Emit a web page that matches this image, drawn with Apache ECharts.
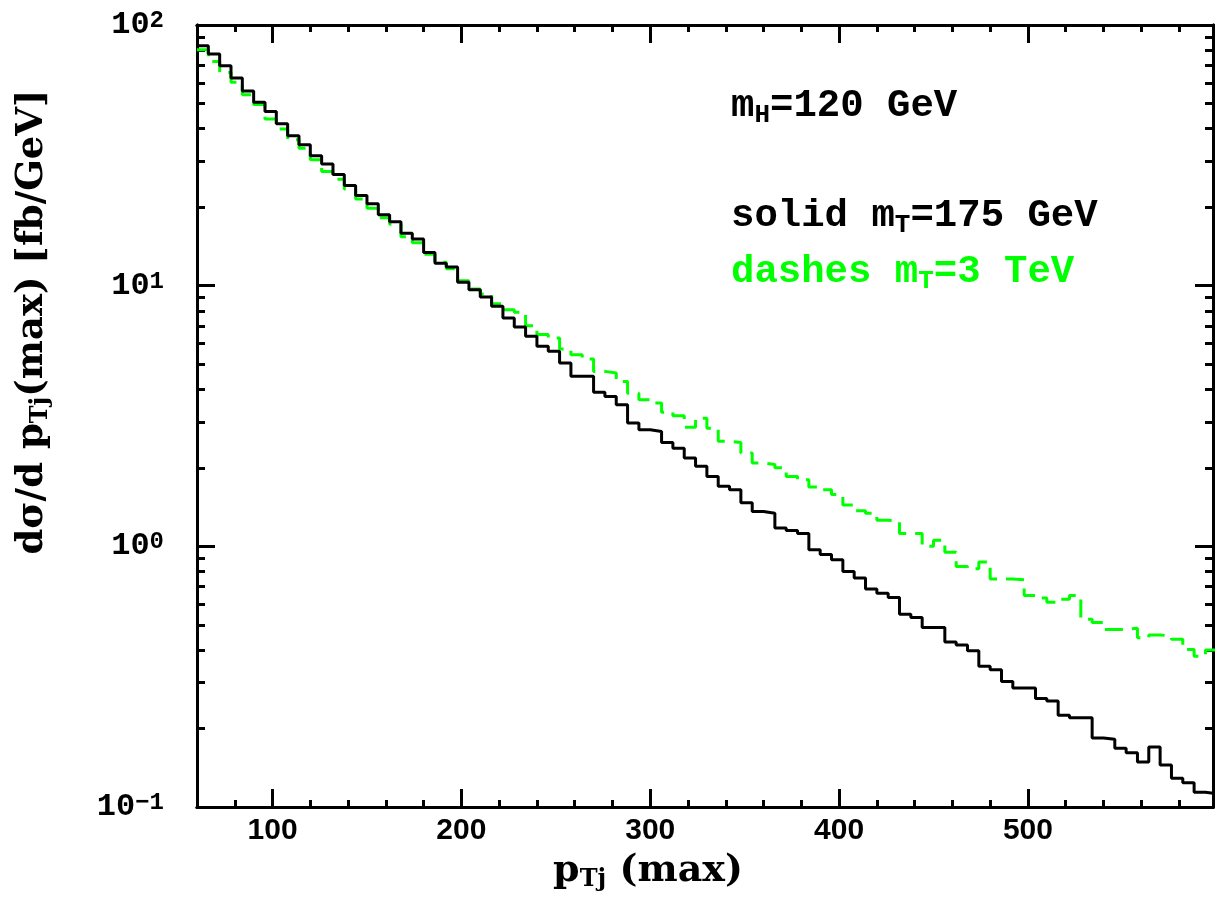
<!DOCTYPE html>
<html><head><meta charset="utf-8">
<script src="https://cdn.jsdelivr.net/npm/echarts@6/dist/echarts.min.js"></script>
<style>html,body{margin:0;padding:0;background:#fff}#c{width:1218px;height:913px}</style>
</head><body><div id="c"></div>
<script>
// histogram bins: 6 GeV wide starting at 60 GeV
const binStart = 60, binWidth = 6;
// solid: m_T = 175 GeV
const solidVals = [83.3,77.4,69.8,62.6,55.8,50.5,46.6,41.8,37.6,34.7,
 31.5,29.3,26.7,24.2,22.2,20.6,18.7,17.6,15.9,15.1,
 13.4,12.2,11.8,10.3,9.65,9.05,8.33,7.52,6.94,6.39,
 5.85,5.60,5.05,4.49,4.49,3.90,3.76,3.49,2.97,2.80,
 2.76,2.50,2.38,2.18,2.03,1.855,1.70,1.65,1.47,1.36,
 1.34,1.175,1.15,1.12,0.97,0.93,0.889,0.80,0.756,0.686,
 0.66,0.637,0.549,0.533,0.488,0.488,0.430,0.418,0.398,0.347,
 0.336,0.303,0.286,0.286,0.261,0.255,0.225,0.220,0.220,0.184,
 0.182,0.168,0.1615,0.1487,0.170,0.145,0.129,0.124,0.114,0.1125];
// dashes: m_T = 3 TeV
const dashVals = [80.4,72.5,65.8,60.3,54.0,49.5,43.6,39.9,36.3,33.7,
 30.4,27.4,25.6,23.5,21.5,19.8,18.2,17.2,15.4,14.6,
 13.2,12.3,11.6,10.45,9.71,9.29,8.53,8.09,7.90,7.02,
 6.49,6.30,5.71,5.43,5.23,4.69,4.62,4.29,3.87,3.65,
 3.55,3.27,3.17,2.86,3.10,2.84,2.53,2.50,2.28,2.09,
 2.06,2.00,1.855,1.80,1.69,1.65,1.58,1.44,1.37,1.34,
 1.26,1.25,1.12,1.12,1.00,1.056,0.95,0.837,0.82,0.87,
 0.75,0.75,0.745,0.647,0.634,0.61,0.627,0.647,0.525,0.51,
 0.48,0.48,0.485,0.446,0.457,0.453,0.44,0.402,0.379,0.40];
// ticks
const xMajorTicks = [100,200,300,400,500];
const xMinorTicks = [80,120,140,160,180,220,240,260,280,320,340,360,380,420,440,460,480,520,540,560,580];
const yMajorTicks = [0.1,1,10,100];
const yMinorTicks = [0.2,0.3,0.4,0.5,0.6,0.7,0.8,0.9,2,3,4,5,6,7,8,9,20,30,40,50,60,70,80,90];
const xRange = [60, 598], yRange = [0.1, 100];

function histData(vals){
  const d = vals.map((v,i)=>[binStart + i*binWidth, v]);
  d.push([binStart + vals.length*binWidth, vals[vals.length-1]]);
  return d;
}

const MONO = "'Liberation Mono','Courier New',monospace";
const SERIF = "'DejaVu Serif','Liberation Serif',serif";
const NARROW = "'Liberation Sans','Arial',sans-serif";
const lineW = 3;

function xAx(pos, ticks, len, labels){
  return {type:'value', min:xRange[0], max:xRange[1], position:pos, gridIndex:0,
    axisLine:{show:true, onZero:false, lineStyle:{color:'#000', width:lineW}},
    axisTick:{show:true, inside:true, length:len, customValues:ticks, lineStyle:{color:'#000', width:lineW}},
    axisLabel: labels ? {show:true, customValues:xMajorTicks, margin:9, color:'#000',
        fontFamily:NARROW, fontWeight:'bold', fontSize:30} : {show:false},
    splitLine:{show:false}};
}
function yAx(pos, ticks, len, labels){
  return {type:'log', logBase:10, min:yRange[0], max:yRange[1], position:pos, gridIndex:0,
    axisLine:{show:true, onZero:false, lineStyle:{color:'#000', width:lineW}},
    axisTick:{show:true, inside:true, length:len, customValues:ticks, lineStyle:{color:'#000', width:lineW}},
    axisLabel: labels ? {show:true, customValues:yMajorTicks, margin:33, color:'#000',
        formatter:function(v){ const e = Math.round(Math.log10(v)); return '{b|10}{s|' + (e<0 ? '\u2212'+(-e) : e) + '}'; },
        rich:{ b:{fontFamily:MONO, fontWeight:'bold', fontSize:32, lineHeight:32, verticalAlign:'bottom', color:'#000'},
               s:{fontFamily:MONO, fontWeight:'bold', fontSize:24, lineHeight:24, padding:[0,0,16,0], verticalAlign:'top', color:'#000'} }
      } : {show:false},
    splitLine:{show:false}};
}

const subRich = (color, fam, size, sub, drop) => ({
  a:{fontFamily:fam, fontWeight:'bold', fontSize:size, lineHeight:size+2, verticalAlign:'top', fill:color, color:color},
  s:{fontFamily:fam, fontWeight:'bold', fontSize:sub, lineHeight:sub, padding:[drop,0,0,0], verticalAlign:'bottom', fill:color, color:color}
});

const chart = echarts.init(document.getElementById('c'), null, {renderer:'canvas'});
chart.setOption({
  animation:false,
  backgroundColor:'#fff',
  grid:{left:197, top:25, width:1016, height:782, show:false},
  xAxis:[ xAx('bottom', xMinorTicks, 7, false), xAx('bottom', xMajorTicks, 18, true),
          xAx('top', xMinorTicks, 7, false), xAx('top', xMajorTicks, 18, false) ],
  yAxis:[ yAx('left', yMinorTicks, 8, false), yAx('left', yMajorTicks, 18, true),
          yAx('right', yMinorTicks, 8, false), yAx('right', yMajorTicks, 18, false) ],
  series:[
    {name:'dashes', type:'line', xAxisIndex:0, yAxisIndex:0, step:'end', showSymbol:false, symbol:'none',
     clip:true, data:histData(dashVals), lineStyle:{color:'#00ff00', width:3, type:[18,9]}, z:2},
    {name:'solid', type:'line', xAxisIndex:0, yAxisIndex:0, step:'end', showSymbol:false, symbol:'none',
     clip:true, data:histData(solidVals), lineStyle:{color:'#000', width:3, type:'solid'}, z:3}
  ],
  graphic:[
    {type:'text', x:731, y:87, z:10, style:{text:'{a|m}{s|H}{a|=120 GeV}', align:'left', verticalAlign:'top',
      rich:subRich('#000', MONO, 39, 26, 20)}},
    {type:'text', x:731, y:197, z:10, style:{text:'{a|solid m}{s|T}{a|=175 GeV}', align:'left', verticalAlign:'top',
      rich:subRich('#000', MONO, 39, 26, 20)}},
    {type:'text', x:731, y:253, z:10, style:{text:'{a|dashes m}{s|T}{a|=3 TeV}', align:'left', verticalAlign:'top',
      rich:subRich('#00ff00', MONO, 39, 26, 20)}},
    {type:'text', x:648, y:872, z:10, style:{text:'{a|p}{s|Tj}{a| (max)}', align:'center', verticalAlign:'middle',
      rich:subRich('#000', SERIF, 38, 24, 18)}},
    {type:'text', x:33, y:322, rotation:Math.PI/2, z:10, style:{text:'{a|d\u03c3/d p}{s|Tj}{a|(max) [fb/GeV]}', align:'center', verticalAlign:'middle',
      rich:subRich('#000', SERIF, 37, 24, 18)}}
  ]
});
</script></body></html>
